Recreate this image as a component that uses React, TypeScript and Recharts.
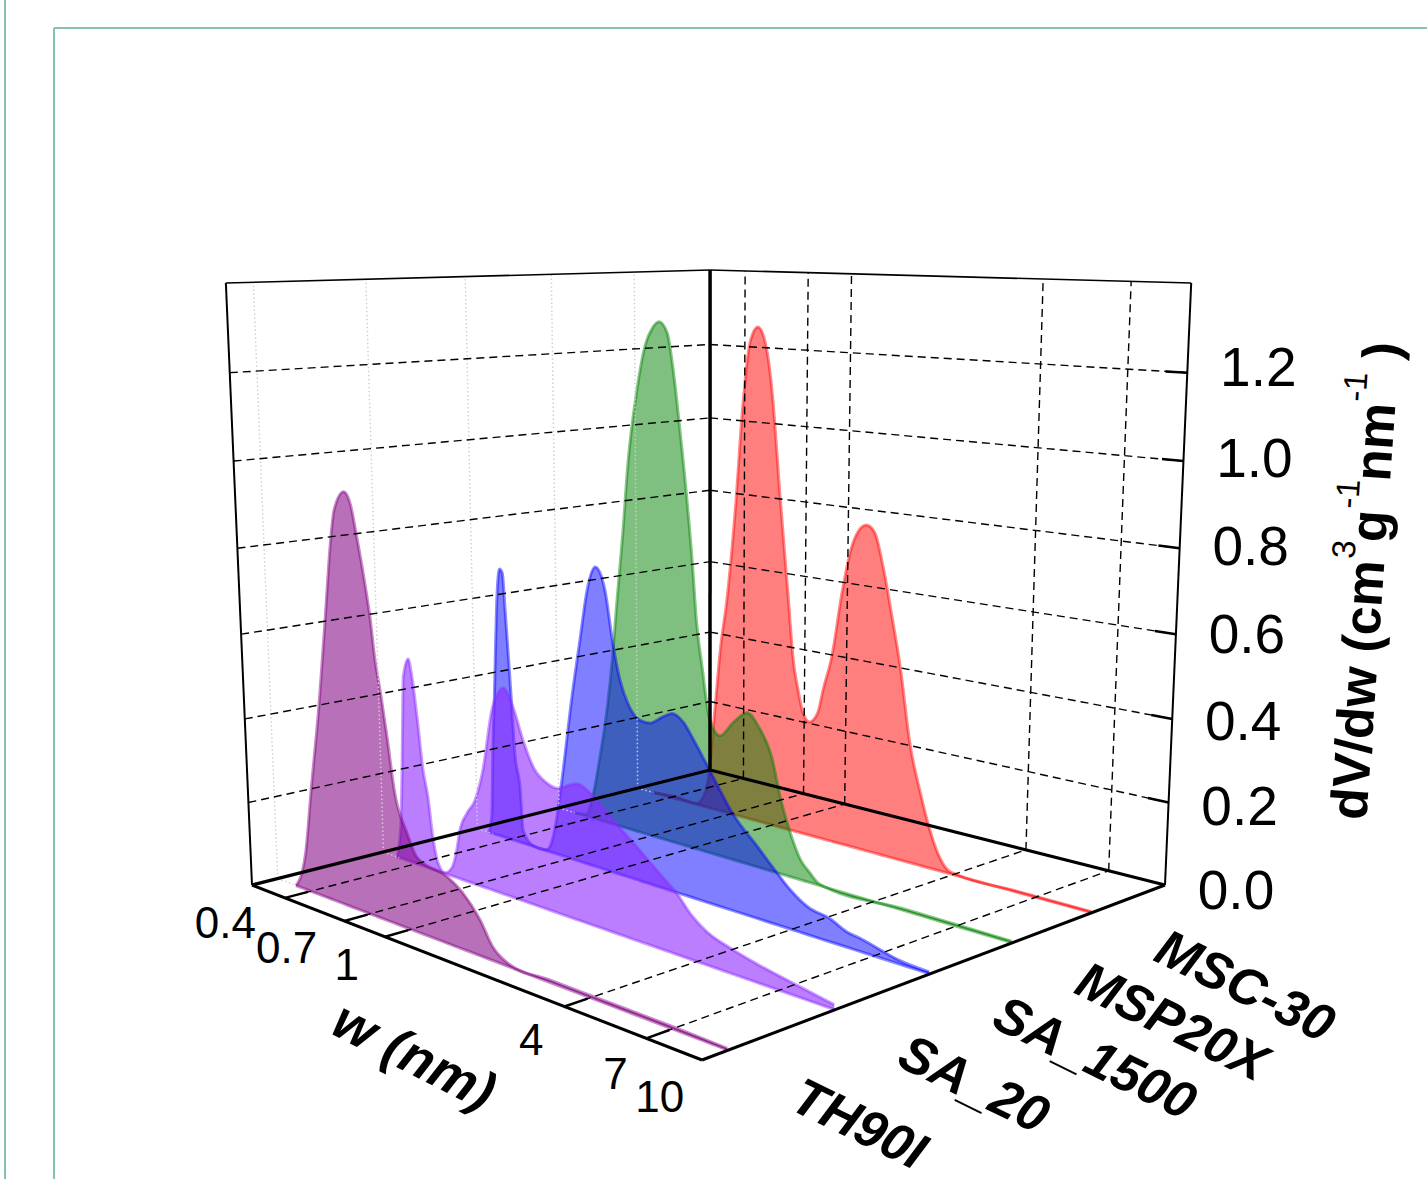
import React from "react";
import { ComposedChart, Area, XAxis, YAxis, ReferenceDot, ReferenceLine } from "recharts";

const WIDTH = 1427;
const HEIGHT = 1179;

const wTicks = [0.4, 0.7, 1, 4, 7, 10];
const zTicks = [0.2, 0.4, 0.6, 0.8, 1.0, 1.2];
const zLabels = ["0.0", "0.2", "0.4", "0.6", "0.8", "1.0", "1.2"];

const thW = [0.345,0.372,0.386,0.418,0.465,0.506,0.545,0.57,0.624,0.66,0.69,0.725,0.76,0.785,0.82,0.855,0.9,0.99,1.07,1.37,1.55,1.77,1.95,2.2,3,5,7,10];
const thZ = [0,0.045,0.09,0.25,0.458,0.654,0.833,0.909,0.952,0.927,0.861,0.778,0.683,0.59,0.51,0.42,0.3,0.218,0.171,0.15,0.126,0.08,0.03,0.006,0.005,0.005,0.005,0.003];

const sa20W = [0.329,0.345,0.355,0.369,0.389,0.402,0.418,0.437,0.455,0.472,0.494,0.526,0.563,0.59,0.61,0.654,0.704,0.76,0.83,0.88,0.918,0.995,1.075,1.17,1.3,1.41,1.65,1.84,2.17,2.6,3.15,3.5,3.82,4.3,5.05,6,7.4,10];
const sa20Z = [0,0.08,0.224,0.458,0.505,0.463,0.368,0.24,0.177,0.082,0.02,0.002,0.022,0.069,0.12,0.168,0.205,0.284,0.431,0.476,0.49,0.451,0.381,0.323,0.296,0.29,0.313,0.3,0.256,0.21,0.16,0.132,0.1,0.072,0.054,0.04,0.027,0.01];

const sa1500W = [0.322,0.333,0.341,0.35,0.366,0.377,0.387,0.396,0.41,0.425,0.443,0.453,0.494,0.565,0.59,0.62,0.655,0.723,0.78,0.835,0.895,0.97,1.03,1.09,1.17,1.28,1.39,1.53,1.65,1.8,1.95,2.2,2.6,3.14,3.6,3.95,4.5,5.2,5.85,6.4,8.3,10];
const sa1500Z = [0,0.047,0.22,0.36,0.616,0.688,0.68,0.58,0.405,0.217,0.143,0.034,0.003,0.003,0.024,0.087,0.192,0.406,0.55,0.677,0.734,0.682,0.561,0.476,0.419,0.39,0.389,0.41,0.424,0.41,0.374,0.313,0.228,0.165,0.119,0.09,0.062,0.052,0.034,0.029,0.008,0.004];

const mspW = [0.337,0.377,0.403,0.434,0.468,0.492,0.517,0.548,0.575,0.628,0.674,0.72,0.76,0.813,0.855,0.9,0.955,1,1.03,1.08,1.15,1.25,1.39,1.55,1.7,1.88,2.02,2.17,2.35,2.52,2.7,5,10];
const mspZ = [0,0.005,0.057,0.17,0.308,0.433,0.592,0.767,0.935,1.129,1.235,1.28,1.295,1.27,1.18,1.045,0.87,0.708,0.58,0.465,0.337,0.303,0.344,0.376,0.347,0.281,0.182,0.109,0.049,0.024,0.004,0.004,0.003];

const mscW = [0.335,0.425,0.512,0.553,0.578,0.595,0.61,0.635,0.673,0.727,0.763,0.815,0.87,0.935,0.98,1.05,1.13,1.18,1.23,1.28,1.35,1.44,1.5,1.6,1.72,1.83,1.93,2.05,2.18,2.33,2.5,2.67,2.89,3.14,3.35,3.58,3.85,4.15,6,10];
const mscZ = [0,0.005,0.003,0.039,0.113,0.216,0.299,0.435,0.571,0.833,1.047,1.235,1.274,1.22,1.113,0.857,0.598,0.445,0.37,0.315,0.295,0.323,0.385,0.473,0.637,0.746,0.794,0.813,0.798,0.717,0.599,0.48,0.298,0.18,0.103,0.043,0.008,0.002,0.002,0.002];

const seriesList = [
  { name: "MSC-30", depth: 0.842, w: mscW, z: mscZ, color: "#ff0000", opacity: 0.5 },
  { name: "MSP20X", depth: 0.67, w: mspW, z: mspZ, color: "#008000", opacity: 0.5 },
  { name: "SA_1500", depth: 0.492, w: sa1500W, z: sa1500Z, color: "#0000ff", opacity: 0.5 },
  { name: "SA_20", depth: 0.287, w: sa20W, z: sa20Z, color: "#8c28ff", opacity: 0.6 },
  { name: "TH90I", depth: 0.056, w: thW, z: thZ, color: "#800080", opacity: 0.56 },
];

// Oblique projection of the 3D box on the page
const A = [252, 885], B = [702, 1060], C = [1165, 885], D = [710, 770];
const uOf = (w: number) => { const L = Math.log10(w); return 0.296 + 0.6 * L + 0.1025 * L * L; };
const lerp = (a: number, b: number, t: number) => a + (b - a) * t;
const project = (u: number, v: number, z: number) => {
  const xf = lerp(lerp(A[0], B[0], u), lerp(D[0], C[0], u), v);
  const yf = lerp(lerp(A[1], B[1], u), lerp(D[1], C[1], u), v);
  const h = 0.887 * yf - 183;
  const t = z / 1.4;
  const s = t / (1.05 - 0.05 * t);
  const y = yf - h * s;
  const x = 708 + (xf - 708) * ((11387 - y) / (11387 - yf));
  return { x, y };
};

const FONT = '"Liberation Sans", Arial, sans-serif';

function areaRows(depth: number, w: number[], z: number[]) {
  const p0 = project(0, depth, 0), p1 = project(1, depth, 0);
  return w.map((wi, i) => {
    const p = project(uOf(wi), depth, z[i]);
    const base = lerp(p0.y, p1.y, (p.x - p0.x) / (p1.x - p0.x));
    return { x: p.x, range: [base, p.y] };
  });
}

type Pt = { x: number; y: number };
const dashLines: Pt[][] = [];
const solidThin: Pt[][] = [];
const dotted: Pt[][] = [];

zTicks.forEach((z) => {
  dashLines.push([project(0, 0, z), project(0, 1, z)]);
  dashLines.push([project(0, 1, z), project(1, 1, z)]);
  solidThin.push([project(0.955, 1, z), project(1, 1, z)]);
});
wTicks.slice(0, 5).forEach((w) => {
  const u = uOf(w);
  dashLines.push([project(u, 0.04, 0), project(u, 1, 0)]);
  dashLines.push([project(u, 1, 0), project(u, 1, 1.4)]);
  solidThin.push([project(u, 0, 0), project(u, 0.05, 0)]);
});
seriesList.forEach((s) => {
  dotted.push([project(0, s.depth, 0), project(0, s.depth, 1.4)]);
  dotted.push([project(0, s.depth, 0), project(0.035, s.depth, 0)]);
});

const heavy = [
  { pts: [project(0, 0, 0), project(1, 0, 0)], w: 3 },
  { pts: [project(1, 0, 0), project(1, 1, 0)], w: 3 },
  { pts: [project(0, 0, 0), project(0, 1, 0)], w: 3.2 },
  { pts: [project(0, 1, 0), project(1, 1, 0)], w: 3.2 },
  { pts: [project(0, 1, 0), project(0, 1, 1.4)], w: 3.5 },
  { pts: [project(0, 0, 0), project(0, 0, 1.4)], w: 2 },
  { pts: [project(1, 1, 0), project(1, 1, 1.4)], w: 2 },
  { pts: [project(0, 0, 1.4), project(0, 1, 1.4)], w: 1.6 },
  { pts: [project(0, 1, 1.4), project(1, 1, 1.4)], w: 1.6 },
];

const frame: Pt[][] = [
  [{ x: 5, y: 0 }, { x: 5, y: 1179 }],
  [{ x: 54, y: 28 }, { x: 54, y: 1179 }],
  [{ x: 54, y: 28 }, { x: 1427, y: 28 }],
];

const txt = (value: string, opts: { size: number; anchor?: string; weight?: string; italic?: boolean; rot?: number }) =>
  (p: any) => (
    <text
      x={p.cx}
      y={p.cy}
      fontFamily={FONT}
      fontSize={opts.size}
      fontWeight={opts.weight || "normal"}
      fontStyle={opts.italic ? "italic" : "normal"}
      textAnchor={opts.anchor || "middle"}
      fill="#000"
      transform={opts.rot ? `rotate(${opts.rot} ${p.cx} ${p.cy})` : undefined}
    >
      {value}
    </text>
  );

const yTitle = (p: any) => (
  <text x={p.cx} y={p.cy} fontFamily={FONT} fontSize={52} fontWeight="bold" textAnchor="middle" fill="#000"
    transform={`rotate(-86 ${p.cx} ${p.cy})`}>
    dV/dw (cm
    <tspan fontSize={33} fontWeight="normal" dy={-30}>3</tspan>
    <tspan dy={30}>g</tspan>
    <tspan fontSize={33} fontWeight="normal" dy={-30}>-1</tspan>
    <tspan dy={30}>nm</tspan>
    <tspan fontSize={33} fontWeight="normal" dy={-30}>-1</tspan>
    <tspan dy={30}> )</tspan>
  </text>
);

const seg = (d: Pt[], key: string, stroke: string, width: number, dash?: string) => (
  <ReferenceLine
    key={key}
    segment={[d[0], d[1]]}
    stroke={stroke}
    strokeWidth={width}
    strokeDasharray={dash}
    ifOverflow="visible"
  />
);

export default function App() {
  return (
    <div style={{ position: "absolute", left: 0, top: 0, width: WIDTH, height: HEIGHT, background: "#fff", overflow: "hidden" }}>
      <ComposedChart width={WIDTH} height={HEIGHT} margin={{ top: 0, right: 0, bottom: 0, left: 0 }}>
        <XAxis dataKey="x" type="number" domain={[0, WIDTH]} hide />
        <YAxis type="number" domain={[0, HEIGHT]} reversed hide />
        {frame.map((d, i) => seg(d, "f" + i, "#86c3ad", 2))}
        {dotted.map((d, i) => seg(d, "o" + i, "#cfcfcf", 1.4, "1.5 2.5"))}
        {dashLines.map((d, i) => seg(d, "d" + i, "#000", 1.4, "8 5"))}
        {solidThin.map((d, i) => seg(d, "s" + i, "#000", 2.5))}
        {heavy.map((d, i) => seg(d.pts, "h" + i, "#000", d.w))}
        {seriesList.map((s) => (
          <Area
            key={s.name}
            data={areaRows(s.depth, s.w, s.z)}
            dataKey="range"
            type="monotone"
            fill={s.color}
            fillOpacity={s.opacity}
            stroke={s.color}
            strokeOpacity={0.45}
            strokeWidth={3}
            dot={false}
            activeDot={false}
            isAnimationActive={false}
          />
        ))}
        {zLabels.map((l) => {
          const p = project(1, 1, Number(l));
          return <ReferenceDot key={l} x={p.x + 71} y={p.y + 24 - 8.5 * Number(l)} r={0} shape={txt(l, { size: 55 })} />;
        })}
        {wTicks.map((w) => {
          const u = uOf(w);
          const p = project(u, 0, 0);
          return <ReferenceDot key={w} x={p.x - 30 + 13 * u} y={p.y + 39 + 13 * u} r={0} shape={txt(String(w), { size: 44, anchor: "end" })} />;
        })}
        {seriesList.map((s) => {
          const p = project(1, s.depth, 0);
          return <ReferenceDot key={s.name} x={p.x + 60} y={p.y + 50 + 9 - 14 * s.depth} r={0} shape={txt(s.name, { size: 52, anchor: "start", weight: "bold", italic: true, rot: 26 })} />;
        })}
        <ReferenceDot x={406} y={1072} r={0} shape={txt("w (nm)", { size: 54, weight: "bold", italic: true, rot: 27 })} />
        <ReferenceDot x={1383} y={582} r={0} shape={yTitle} />
      </ComposedChart>
    </div>
  );
}
